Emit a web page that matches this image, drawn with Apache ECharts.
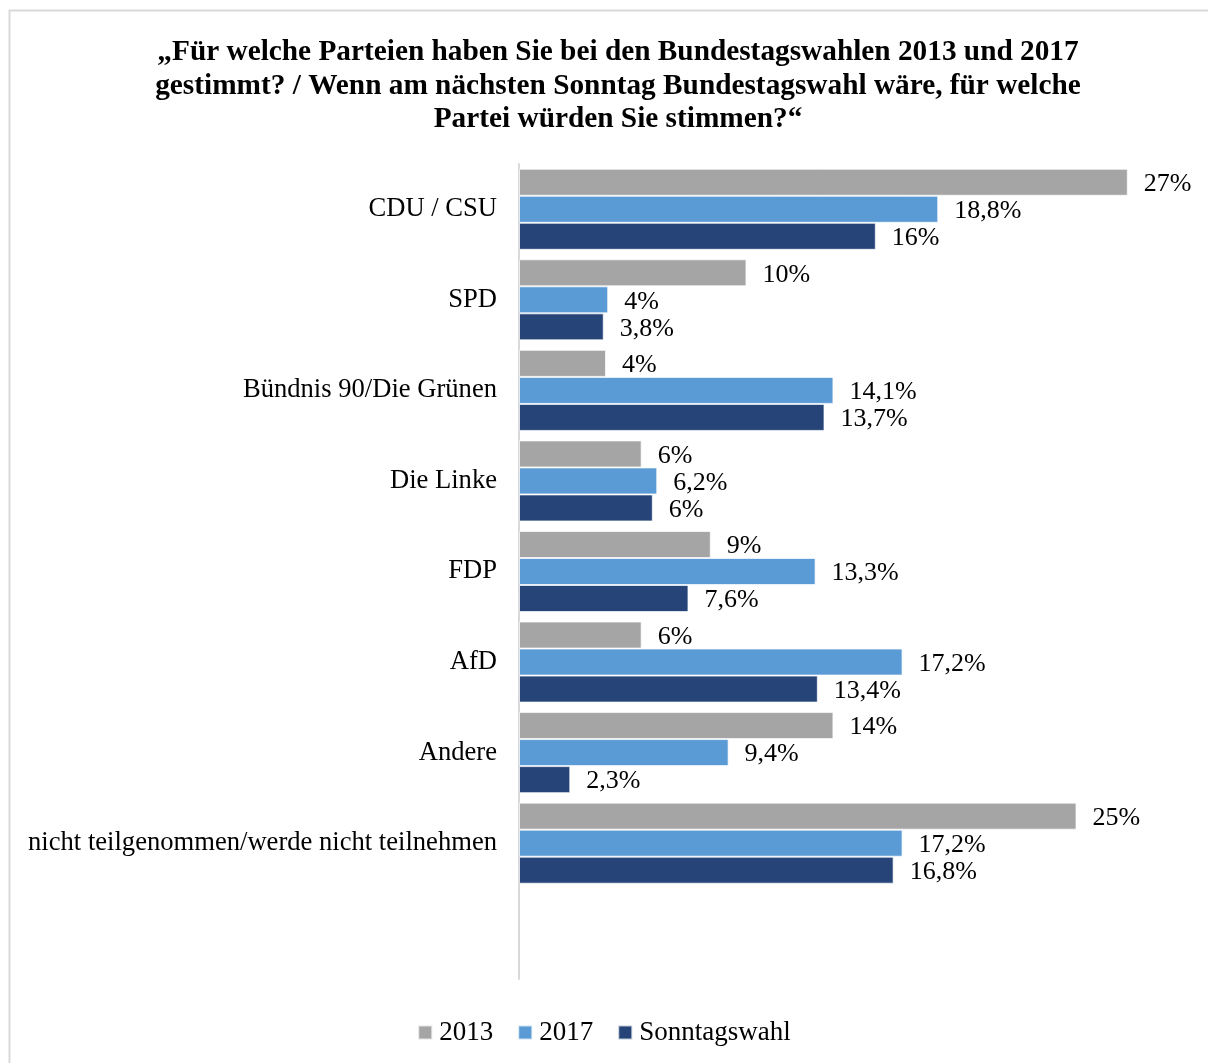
<!DOCTYPE html>
<html>
<head>
<meta charset="utf-8">
<script src="https://cdn.jsdelivr.net/npm/echarts@6/dist/echarts.min.js"></script>
<style>
  html, body { margin: 0; padding: 0; background: #fff; }
  #chart { width: 1208px; height: 1063px; }
</style>
</head>
<body>
<div id="chart"></div>
<script>
// Kategorien von oben nach unten, letzte Zeile bleibt leer wie im Original
const parties = [
  'CDU / CSU', 'SPD', 'Bündnis 90/Die Grünen', 'Die Linke',
  'FDP', 'AfD', 'Andere', 'nicht teilgenommen/werde nicht teilnehmen', ''
];
const values2013 = [27.3, 10.2, 3.9, 5.5, 8.6, 5.5, 14.1, 25.0];
const values2017 = [18.8, 4, 14.1, 6.2, 13.3, 17.2, 9.4, 17.2];
const valuesSonntag = [16, 3.8, 13.7, 6, 7.6, 13.4, 2.3, 16.8];

const serif = '"Liberation Serif", "DejaVu Serif", serif';

const fmt = function (v) {
  return String(v).replace('.', ',') + '%';
};

const chart = echarts.init(document.getElementById('chart'));

const mkSeries = (name, data, color, round) => ({
  name: name,
  type: 'bar',
  data: data,
  barGap: '0%',
  barCategoryGap: '10.5%',
  itemStyle: { color: color, borderColor: 'rgba(255,255,255,0.7)', borderWidth: 1 },
  label: {
    show: true,
    position: 'right',
    distance: 16,
    fontFamily: serif,
    fontSize: 26,
    color: '#000',
    offset: [0, 2],
    formatter: p => round ? Math.round(p.value) + '%' : fmt(p.value)
  },
  animation: false
});

const option = {
  backgroundColor: '#fff',
  title: {
    text: '„Für welche Parteien haben Sie bei den Bundestagswahlen 2013 und 2017\ngestimmt? / Wenn am nächsten Sonntag Bundestagswahl wäre, für welche\nPartei würden Sie stimmen?“',
    left: 613,
    top: 31,
    textAlign: 'center',
    textStyle: {
      fontFamily: serif,
      fontWeight: 'bold',
      fontSize: 29.3,
      lineHeight: 33.5,
      color: '#000'
    }
  },
  legend: {
    bottom: 12,
    left: 'center',
    itemWidth: 14,
    itemHeight: 14,
    itemGap: 24,
    icon: 'rect',
    textStyle: { fontFamily: serif, fontSize: 27, color: '#000', padding: [0, 0, 0, 2] },
    data: ['2013', '2017', 'Sonntagswahl']
  },
  grid: {
    left: 519,
    right: 20,
    top: 164,
    bottom: 84,
    containLabel: false
  },
  xAxis: {
    type: 'value',
    min: 0,
    max: 30,
    show: false
  },
  yAxis: {
    type: 'category',
    inverse: true,
    data: parties,
    axisLine: { show: true, lineStyle: { color: '#D9D9D9', width: 2 } },
    axisTick: { show: false },
    axisLabel: { fontFamily: serif, fontSize: 26.6, color: '#000', margin: 22 }
  },
  graphic: [{
    type: 'rect',
    shape: { x: 9.5, y: 10.5, width: 1400, height: 1200 },
    style: { fill: 'none', stroke: '#D9D9D9', lineWidth: 2 },
    silent: true
  }],
  series: [
    mkSeries('2013', values2013, '#A5A5A5', true),
    mkSeries('2017', values2017, '#5B9BD5', false),
    mkSeries('Sonntagswahl', valuesSonntag, '#264478', false)
  ]
};

chart.setOption(option);
</script>
</body>
</html>
